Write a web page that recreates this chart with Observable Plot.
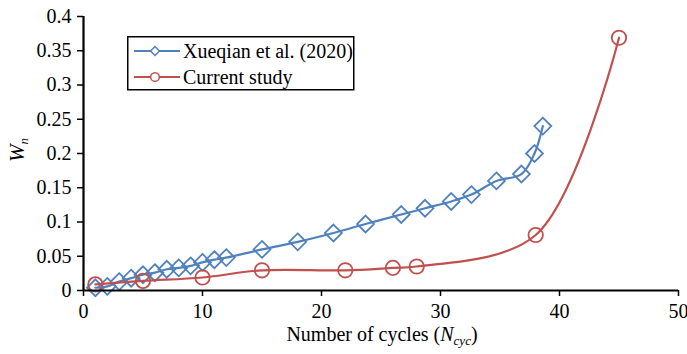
<!DOCTYPE html>
<html>
<head>
<meta charset="utf-8">
<script src="https://cdn.jsdelivr.net/npm/d3@7"></script>
<script src="https://cdn.jsdelivr.net/npm/@observablehq/plot@0.6"></script>
<style>
  body { margin: 0; background: #fff; }
  #wrap { position: relative; width: 687px; height: 354px; font-family: "Liberation Serif", "Times New Roman", "DejaVu Serif", serif; }
  #ylab { position: absolute; left: 17px; top: 150px; transform: translate(-50%, -50%) rotate(-90deg); font-size: 21px; font-style: italic; white-space: nowrap; }
  #xlab { position: absolute; left: 382px; top: 323px; transform: translateX(-50%); font-size: 20px; white-space: nowrap; }
  sub { font-size: 13px; vertical-align: -4px; line-height: 0; }
  #legend { position: absolute; left: 127px; top: 36px; }
  svg text { font-family: "Liberation Serif", "Times New Roman", "DejaVu Serif", serif; }
</style>
</head>
<body>
<div id="wrap">
  <div id="chart"></div>
  <div id="ylab">W<sub>n</sub></div>
  <div id="xlab">Number of cycles (<i>N</i><sub><i>cyc</i></sub>)</div>
  <svg id="legend" width="230" height="56"></svg>
</div>
<script>
// Series names and colours
const seriesNames = ["Xueqian et al. (2020)", "Current study"];
const seriesColors = ["#4F81BD", "#C0504D"];

// Xueqian et al. (2020)
const xueqianCycles = [1, 2, 3, 4, 5, 6, 7, 8, 9, 10, 11, 12, 15, 18, 21, 23.7, 26.7, 28.7, 30.9, 32.6, 34.7, 36.8, 37.9, 38.6];
const xueqianW = [0.004, 0.006, 0.013, 0.018, 0.023, 0.026, 0.031, 0.033, 0.036, 0.041, 0.045, 0.048, 0.060, 0.071, 0.084, 0.097, 0.111, 0.120, 0.130, 0.140, 0.160, 0.170, 0.200, 0.240];

// Current study
const currentCycles = [1, 5, 10, 15, 22, 26, 28, 38, 45];
const currentW = [0.009, 0.014, 0.019, 0.0295, 0.0295, 0.033, 0.035, 0.081, 0.369];

// Axis ticks
const xTicks = [0, 10, 20, 30, 40, 50];
const yTicks = [0, 0.05, 0.1, 0.15, 0.2, 0.25, 0.3, 0.35, 0.4];

const xueqian = xueqianCycles.map((n, i) => ({n, w: xueqianW[i]}));
const current = currentCycles.map((n, i) => ({n, w: currentW[i]}));

const serif = "'Liberation Serif', 'Times New Roman', 'DejaVu Serif', serif";

const chart = Plot.plot({
  width: 687,
  height: 354,
  marginLeft: 83,
  marginRight: 9,
  marginTop: 16,
  marginBottom: 64,
  style: {fontFamily: serif, fontSize: "20px", color: "#000", background: "transparent"},
  x: {domain: [0, 50]},
  y: {domain: [0, 0.4]},
  marks: [
    Plot.axisX({ticks: xTicks, tickSize: 6, tickPadding: 7, strokeWidth: 1.5, label: null, fontSize: 20}),
    Plot.axisY({ticks: yTicks, tickSize: 6, tickPadding: 6, strokeWidth: 1.5, label: null, fontSize: 20,
      tickFormat: d => String(+d.toFixed(2))}),
    Plot.line(xueqian, {x: "n", y: "w", stroke: seriesColors[0], strokeWidth: 2.2, curve: "catmull-rom"}),
    Plot.dot(xueqian, {x: "n", y: "w", symbol: "diamond2", r: 7.6, stroke: seriesColors[0], strokeWidth: 1.8, fill: "none"}),
    Plot.line(current, {x: "n", y: "w", stroke: seriesColors[1], strokeWidth: 2.2, curve: "catmull-rom"}),
    Plot.dot(current, {x: "n", y: "w", symbol: "circle", r: 7.2, stroke: seriesColors[1], strokeWidth: 1.8, fill: "none"}),
    Plot.ruleX([0], {stroke: "#000", strokeWidth: 2.2}),
    Plot.ruleY([0], {stroke: "#000", strokeWidth: 2.2})
  ]
});
document.getElementById("chart").appendChild(chart);

// Legend box with a line and marker for each series
const legend = d3.select("#legend");
legend.append("rect").attr("x", 0.75).attr("y", 0.75).attr("width", 226).attr("height", 53)
  .attr("fill", "#fff").attr("stroke", "#000").attr("stroke-width", 1.5);
const symbols = [d3.symbolDiamond2, d3.symbolCircle];
seriesNames.forEach((name, i) => {
  const y = 15 + i * 26;
  const g = legend.append("g");
  g.append("line").attr("x1", 7).attr("x2", 53).attr("y1", y).attr("y2", y)
    .attr("stroke", seriesColors[i]).attr("stroke-width", 2.2);
  g.append("path").attr("d", d3.symbol(symbols[i], i === 0 ? 50 : 60)())
    .attr("transform", `translate(28,${y})`)
    .attr("fill", "#fff").attr("stroke", seriesColors[i]).attr("stroke-width", 1.5);
  g.append("text").attr("x", 56).attr("y", y).attr("dy", "0.35em")
    .attr("font-size", 20)
    .text(name);
});
</script>
</body>
</html>
